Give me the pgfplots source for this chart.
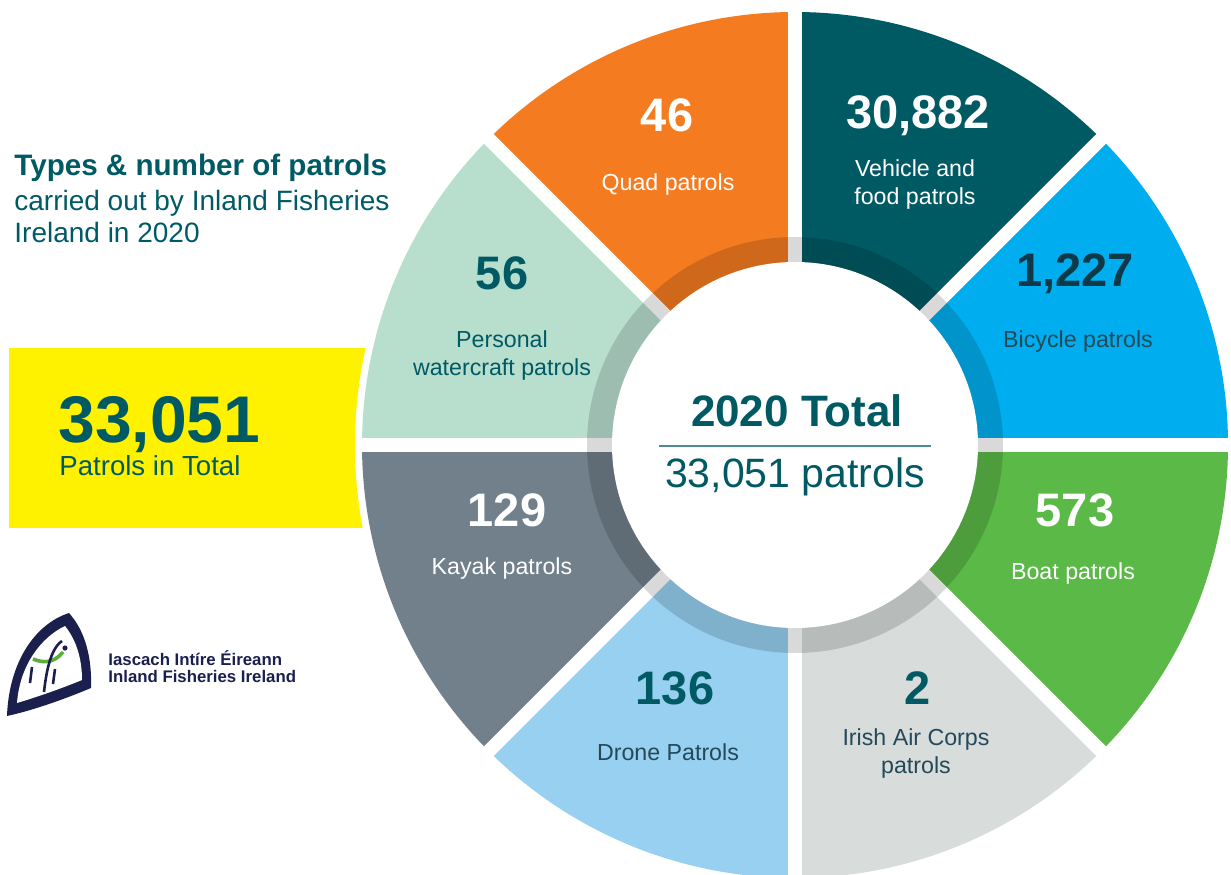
\documentclass[border=0pt]{standalone}
\usepackage{pgfplots}
\usepackage{pgfplotstable}
\pgfplotsset{compat=1.18}
\usepackage{fontspec}
\setmainfont{Liberation Sans}

\definecolor{ifiteal}{HTML}{005A64}
\definecolor{quad}{HTML}{F47B20}
\definecolor{bicycle}{HTML}{00AEEF}
\definecolor{boat}{HTML}{5BB947}
\definecolor{aircorps}{HTML}{D8DCDB}
\definecolor{drone}{HTML}{97D0F0}
\definecolor{kayak}{HTML}{71808A}
\definecolor{pwc}{HTML}{B8DFCE}
\definecolor{darktxt}{HTML}{0D3A48}
\definecolor{greytxt}{HTML}{24495A}
\definecolor{rule}{HTML}{4E8C93}
\definecolor{ifiyellow}{HTML}{FFF200}
\definecolor{navy}{HTML}{1A1F4E}
\definecolor{logogreen}{HTML}{5AAE3C}

\newcommand\fs[2]{\fontsize{#1}{#2}\selectfont}

\begin{document}
\begin{tikzpicture}
\useasboundingbox (0,0) rectangle (615.5pt,437pt);
\clip (0,0) rectangle (615.5pt,437pt);
\begin{axis}[at={(0,0)}, anchor=south west,
    width=615.5pt, height=437pt, scale only axis,
    xmin=0, xmax=1231, ymin=0, ymax=874,
    hide axis, clip=false]

  % yellow total box, cut by the ring's outline
  \fill[ifiyellow] (axis cs:9,346) rectangle (axis cs:420,526);
  \fill[white] (axis cs:795,429) circle[radius=220pt];

  % eight equal sectors
  \coordinate (c) at (axis cs:795,429);
  \fill[bicycle]  (c) -- ++(0:216.5pt)   arc[start angle=0,   end angle=45,  radius=216.5pt] -- cycle;
  \fill[ifiteal]  (c) -- ++(45:216.5pt)  arc[start angle=45,  end angle=90,  radius=216.5pt] -- cycle;
  \fill[quad]     (c) -- ++(90:216.5pt)  arc[start angle=90,  end angle=135, radius=216.5pt] -- cycle;
  \fill[pwc]      (c) -- ++(135:216.5pt) arc[start angle=135, end angle=180, radius=216.5pt] -- cycle;
  \fill[kayak]    (c) -- ++(180:216.5pt) arc[start angle=180, end angle=225, radius=216.5pt] -- cycle;
  \fill[drone]    (c) -- ++(225:216.5pt) arc[start angle=225, end angle=270, radius=216.5pt] -- cycle;
  \fill[aircorps] (c) -- ++(270:216.5pt) arc[start angle=270, end angle=315, radius=216.5pt] -- cycle;
  \fill[boat]     (c) -- ++(315:216.5pt) arc[start angle=315, end angle=360, radius=216.5pt] -- cycle;

  % white gaps between the sectors
  \draw[white, line width=6.8pt] (axis cs:359,429) -- (axis cs:1231,429);
  \draw[white, line width=6.8pt] (axis cs:795,-10) -- (axis cs:795,874);
  \draw[white, line width=6.8pt] (axis cs:486.7,120.7) -- (axis cs:1103.3,737.3);
  \draw[white, line width=6.8pt] (axis cs:486.7,737.3) -- (axis cs:1103.3,120.7);

  % darker inner ring and centre disc
  \fill[black, opacity=0.15] (c) circle[radius=104pt];
  \fill[white] (c) circle[radius=91.5pt];

  % centre text
  \node[ifiteal, font=\fs{22}{26}\bfseries] at (axis cs:797,463) {2020 Total};
  \draw[rule, line width=0.8pt] (axis cs:659,428) -- (axis cs:931,428);
  \node[ifiteal, font=\fs{20.5}{24}] at (axis cs:795,397) {33,051 patrols};

  % values
  \addplot[draw=none, nodes near coords, point meta=explicit symbolic,
    every node near coord/.append style={anchor=center, text=white, font=\fs{23.5}{27}\bfseries}]
    coordinates {(667,759) [46] (918,758) [{30,882}] (1075,364) [573] (507,364) [129]};
  \addplot[draw=none, nodes near coords, point meta=explicit symbolic,
    every node near coord/.append style={anchor=center, text=ifiteal, font=\fs{23.5}{27}\bfseries}]
    coordinates {(502,601) [56] (918,186) [2] (675,186) [136]};
  \addplot[draw=none, nodes near coords, point meta=explicit symbolic,
    every node near coord/.append style={anchor=center, text=darktxt, font=\fs{23.5}{27}\bfseries}]
    coordinates {(1075,600) [{1,227}]};

  % category names
  \begin{scope}[every node/.style={align=center, font=\fs{11.6}{14}}]
    \node[white]   at (axis cs:668,689) {Quad patrols};
    \node[white]   at (axis cs:915,689) {Vehicle and\\food patrols};
    \node[greytxt] at (axis cs:1078,532) {Bicycle patrols};
    \node[white]   at (axis cs:1073,301) {Boat patrols};
    \node[greytxt] at (axis cs:916,121) {Irish Air Corps\\patrols};
    \node[greytxt] at (axis cs:668,122) {Drone Patrols};
    \node[white]   at (axis cs:502,306) {Kayak patrols};
    \node[ifiteal] at (axis cs:502,518) {Personal\\watercraft patrols};
  \end{scope}

  % title block
  \node[ifiteal, anchor=base west, inner sep=0pt, font=\fs{14.8}{16}\bfseries] at (axis cs:14,698) {Types \& number of patrols};
  \node[ifiteal, anchor=base west, inner sep=0pt, font=\fs{14}{16}] at (axis cs:14,663) {carried out by Inland Fisheries};
  \node[ifiteal, anchor=base west, inner sep=0pt, font=\fs{14}{16}] at (axis cs:14,632) {Ireland in 2020};

  % total in the yellow box
  \node[ifiteal, anchor=base west, inner sep=0pt, font=\fs{33}{36}\bfseries] at (axis cs:58,432) {33,051};
  \node[ifiteal, anchor=base west, inner sep=0pt, font=\fs{13.8}{16}] at (axis cs:59,399) {Patrols in Total};

  % logo
  \fill[navy] (axis cs:7,158) .. controls (axis cs:9,212) and (axis cs:35,250) .. (axis cs:69,261)
     .. controls (axis cs:86,242) and (axis cs:92,215) .. (axis cs:91,186)
     .. controls (axis cs:60,173) and (axis cs:30,163) .. cycle;
  \fill[white] (axis cs:17,171) .. controls (axis cs:20,210) and (axis cs:42,237) .. (axis cs:65,248)
     .. controls (axis cs:77,233) and (axis cs:82,214) .. (axis cs:82,194)
     .. controls (axis cs:60,185) and (axis cs:37,177) .. cycle;
  \draw[logogreen, line width=1.8pt] (axis cs:33,215) .. controls (axis cs:45,210) and (axis cs:55,212) .. (axis cs:63,222);
  \draw[navy, line width=1.3pt] (axis cs:62,233) .. controls (axis cs:50,225) and (axis cs:46,200) .. (axis cs:44,182);
  \draw[navy, line width=1.3pt] (axis cs:32,207) -- (axis cs:30,191);
  \draw[navy, line width=1.3pt] (axis cs:55,205) -- (axis cs:53,190);
  \fill[navy] (axis cs:65,226) circle[radius=1.3pt];
  \node[navy, anchor=base west, inner sep=0pt, font=\fs{8.4}{9}\bfseries] at (axis cs:108,209) {Iascach Intíre Éireann};
  \node[navy, anchor=base west, inner sep=0pt, font=\fs{8.4}{9}\bfseries] at (axis cs:108,192) {Inland Fisheries Ireland};
\end{axis}
\end{tikzpicture}
\end{document}
